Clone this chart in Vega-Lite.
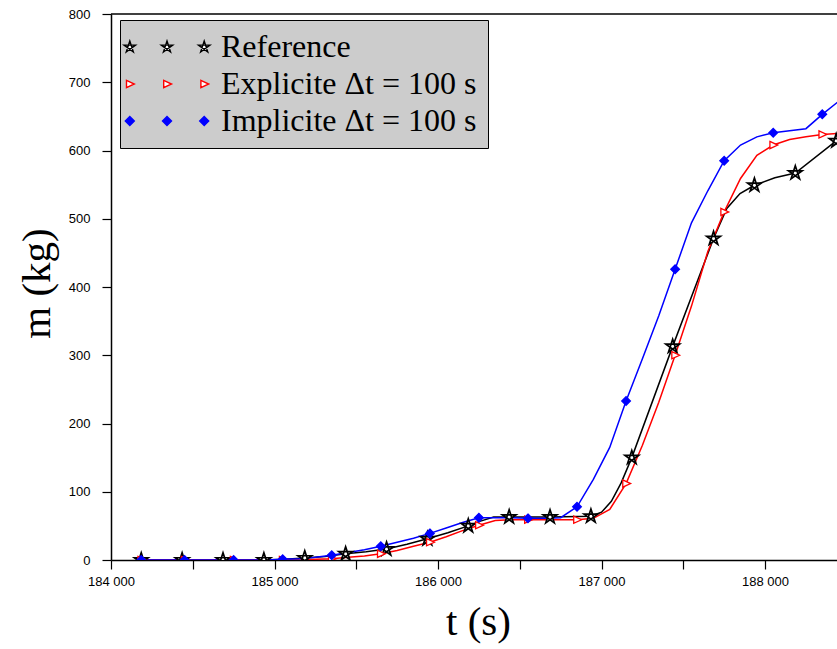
{
  "$schema": "https://vega.github.io/schema/vega-lite/v6.json",
  "width": 726,
  "height": 546,
  "autosize": "none",
  "padding": {"left": 111, "top": 14, "right": 0, "bottom": 89},
  "background": "white",
  "config": {"view": {"stroke": null}},
  "datasets": {
    "lines": [
      {"series": "Reference", "t": 184185, "m": 0},
      {"series": "Reference", "t": 184435, "m": 0},
      {"series": "Reference", "t": 184685, "m": 0},
      {"series": "Reference", "t": 184935, "m": 0},
      {"series": "Reference", "t": 185060, "m": 1},
      {"series": "Reference", "t": 185185, "m": 3},
      {"series": "Reference", "t": 185310, "m": 5},
      {"series": "Reference", "t": 185435, "m": 9},
      {"series": "Reference", "t": 185560, "m": 12},
      {"series": "Reference", "t": 185685, "m": 16},
      {"series": "Reference", "t": 185810, "m": 23},
      {"series": "Reference", "t": 185935, "m": 31},
      {"series": "Reference", "t": 186060, "m": 40},
      {"series": "Reference", "t": 186185, "m": 50},
      {"series": "Reference", "t": 186260, "m": 57},
      {"series": "Reference", "t": 186340, "m": 63},
      {"series": "Reference", "t": 186435, "m": 63},
      {"series": "Reference", "t": 186685, "m": 63},
      {"series": "Reference", "t": 186935, "m": 64},
      {"series": "Reference", "t": 187000, "m": 70},
      {"series": "Reference", "t": 187060, "m": 86},
      {"series": "Reference", "t": 187120, "m": 113},
      {"series": "Reference", "t": 187185, "m": 150},
      {"series": "Reference", "t": 187435, "m": 313},
      {"series": "Reference", "t": 187685, "m": 471},
      {"series": "Reference", "t": 187766, "m": 515},
      {"series": "Reference", "t": 187847, "m": 537},
      {"series": "Reference", "t": 187935, "m": 549},
      {"series": "Reference", "t": 188060, "m": 560},
      {"series": "Reference", "t": 188185, "m": 567},
      {"series": "Reference", "t": 188435, "m": 614},
      {"series": "Reference", "t": 188500, "m": 625},
      {"series": "Explicite Δt = 100 s", "t": 184185, "m": 0},
      {"series": "Explicite Δt = 100 s", "t": 184250, "m": 0},
      {"series": "Explicite Δt = 100 s", "t": 184350, "m": 0},
      {"series": "Explicite Δt = 100 s", "t": 184450, "m": 0},
      {"series": "Explicite Δt = 100 s", "t": 184550, "m": 0},
      {"series": "Explicite Δt = 100 s", "t": 184650, "m": 0},
      {"series": "Explicite Δt = 100 s", "t": 184750, "m": 0},
      {"series": "Explicite Δt = 100 s", "t": 184850, "m": 0},
      {"series": "Explicite Δt = 100 s", "t": 184950, "m": 0},
      {"series": "Explicite Δt = 100 s", "t": 185050, "m": 0},
      {"series": "Explicite Δt = 100 s", "t": 185150, "m": 0},
      {"series": "Explicite Δt = 100 s", "t": 185250, "m": 1},
      {"series": "Explicite Δt = 100 s", "t": 185350, "m": 2},
      {"series": "Explicite Δt = 100 s", "t": 185450, "m": 4},
      {"series": "Explicite Δt = 100 s", "t": 185550, "m": 6},
      {"series": "Explicite Δt = 100 s", "t": 185650, "m": 9},
      {"series": "Explicite Δt = 100 s", "t": 185750, "m": 14},
      {"series": "Explicite Δt = 100 s", "t": 185850, "m": 20},
      {"series": "Explicite Δt = 100 s", "t": 185950, "m": 26},
      {"series": "Explicite Δt = 100 s", "t": 186050, "m": 34},
      {"series": "Explicite Δt = 100 s", "t": 186150, "m": 43},
      {"series": "Explicite Δt = 100 s", "t": 186250, "m": 51},
      {"series": "Explicite Δt = 100 s", "t": 186350, "m": 58},
      {"series": "Explicite Δt = 100 s", "t": 186450, "m": 59},
      {"series": "Explicite Δt = 100 s", "t": 186550, "m": 59},
      {"series": "Explicite Δt = 100 s", "t": 186650, "m": 59},
      {"series": "Explicite Δt = 100 s", "t": 186750, "m": 59},
      {"series": "Explicite Δt = 100 s", "t": 186850, "m": 59},
      {"series": "Explicite Δt = 100 s", "t": 186950, "m": 61},
      {"series": "Explicite Δt = 100 s", "t": 187050, "m": 74},
      {"series": "Explicite Δt = 100 s", "t": 187150, "m": 112},
      {"series": "Explicite Δt = 100 s", "t": 187250, "m": 168},
      {"series": "Explicite Δt = 100 s", "t": 187350, "m": 231},
      {"series": "Explicite Δt = 100 s", "t": 187450, "m": 300},
      {"series": "Explicite Δt = 100 s", "t": 187550, "m": 372},
      {"series": "Explicite Δt = 100 s", "t": 187650, "m": 452},
      {"series": "Explicite Δt = 100 s", "t": 187750, "m": 510},
      {"series": "Explicite Δt = 100 s", "t": 187850, "m": 559},
      {"series": "Explicite Δt = 100 s", "t": 187950, "m": 593},
      {"series": "Explicite Δt = 100 s", "t": 188050, "m": 608},
      {"series": "Explicite Δt = 100 s", "t": 188150, "m": 616},
      {"series": "Explicite Δt = 100 s", "t": 188250, "m": 620},
      {"series": "Explicite Δt = 100 s", "t": 188350, "m": 623.5},
      {"series": "Explicite Δt = 100 s", "t": 188450, "m": 625},
      {"series": "Implicite Δt = 100 s", "t": 184185, "m": 0},
      {"series": "Implicite Δt = 100 s", "t": 184250, "m": 0},
      {"series": "Implicite Δt = 100 s", "t": 184350, "m": 0},
      {"series": "Implicite Δt = 100 s", "t": 184450, "m": 0},
      {"series": "Implicite Δt = 100 s", "t": 184550, "m": 0},
      {"series": "Implicite Δt = 100 s", "t": 184650, "m": 0},
      {"series": "Implicite Δt = 100 s", "t": 184750, "m": 0},
      {"series": "Implicite Δt = 100 s", "t": 184850, "m": 0},
      {"series": "Implicite Δt = 100 s", "t": 184950, "m": 0},
      {"series": "Implicite Δt = 100 s", "t": 185050, "m": 1},
      {"series": "Implicite Δt = 100 s", "t": 185150, "m": 2},
      {"series": "Implicite Δt = 100 s", "t": 185250, "m": 4},
      {"series": "Implicite Δt = 100 s", "t": 185350, "m": 7},
      {"series": "Implicite Δt = 100 s", "t": 185450, "m": 11},
      {"series": "Implicite Δt = 100 s", "t": 185550, "m": 15},
      {"series": "Implicite Δt = 100 s", "t": 185650, "m": 20},
      {"series": "Implicite Δt = 100 s", "t": 185750, "m": 26},
      {"series": "Implicite Δt = 100 s", "t": 185850, "m": 32},
      {"series": "Implicite Δt = 100 s", "t": 185950, "m": 39},
      {"series": "Implicite Δt = 100 s", "t": 186050, "m": 47},
      {"series": "Implicite Δt = 100 s", "t": 186150, "m": 55},
      {"series": "Implicite Δt = 100 s", "t": 186250, "m": 62},
      {"series": "Implicite Δt = 100 s", "t": 186350, "m": 62},
      {"series": "Implicite Δt = 100 s", "t": 186450, "m": 62},
      {"series": "Implicite Δt = 100 s", "t": 186550, "m": 61},
      {"series": "Implicite Δt = 100 s", "t": 186650, "m": 61},
      {"series": "Implicite Δt = 100 s", "t": 186750, "m": 62},
      {"series": "Implicite Δt = 100 s", "t": 186850, "m": 78},
      {"series": "Implicite Δt = 100 s", "t": 186950, "m": 118},
      {"series": "Implicite Δt = 100 s", "t": 187050, "m": 165},
      {"series": "Implicite Δt = 100 s", "t": 187150, "m": 233},
      {"series": "Implicite Δt = 100 s", "t": 187250, "m": 295},
      {"series": "Implicite Δt = 100 s", "t": 187350, "m": 358},
      {"series": "Implicite Δt = 100 s", "t": 187450, "m": 426},
      {"series": "Implicite Δt = 100 s", "t": 187550, "m": 494},
      {"series": "Implicite Δt = 100 s", "t": 187650, "m": 541},
      {"series": "Implicite Δt = 100 s", "t": 187750, "m": 585},
      {"series": "Implicite Δt = 100 s", "t": 187850, "m": 608},
      {"series": "Implicite Δt = 100 s", "t": 187950, "m": 620},
      {"series": "Implicite Δt = 100 s", "t": 188050, "m": 626},
      {"series": "Implicite Δt = 100 s", "t": 188150, "m": 629},
      {"series": "Implicite Δt = 100 s", "t": 188250, "m": 632},
      {"series": "Implicite Δt = 100 s", "t": 188350, "m": 653},
      {"series": "Implicite Δt = 100 s", "t": 188450, "m": 672}
    ],
    "markers": [
      {"series": "Reference", "t": 184185, "m": 0},
      {"series": "Reference", "t": 184435, "m": 0},
      {"series": "Reference", "t": 184685, "m": 0},
      {"series": "Reference", "t": 184935, "m": 0},
      {"series": "Reference", "t": 185185, "m": 3},
      {"series": "Reference", "t": 185435, "m": 9},
      {"series": "Reference", "t": 185685, "m": 16},
      {"series": "Reference", "t": 185935, "m": 31},
      {"series": "Reference", "t": 186185, "m": 50},
      {"series": "Reference", "t": 186435, "m": 63},
      {"series": "Reference", "t": 186685, "m": 63},
      {"series": "Reference", "t": 186935, "m": 64},
      {"series": "Reference", "t": 187185, "m": 150},
      {"series": "Reference", "t": 187435, "m": 313},
      {"series": "Reference", "t": 187685, "m": 471},
      {"series": "Reference", "t": 187935, "m": 549},
      {"series": "Reference", "t": 188185, "m": 567},
      {"series": "Reference", "t": 188435, "m": 614},
      {"series": "Explicite Δt = 100 s", "t": 184185, "m": 0},
      {"series": "Explicite Δt = 100 s", "t": 184450, "m": 0},
      {"series": "Explicite Δt = 100 s", "t": 184750, "m": 0},
      {"series": "Explicite Δt = 100 s", "t": 185050, "m": 0},
      {"series": "Explicite Δt = 100 s", "t": 185350, "m": 2},
      {"series": "Explicite Δt = 100 s", "t": 185650, "m": 9},
      {"series": "Explicite Δt = 100 s", "t": 185950, "m": 26},
      {"series": "Explicite Δt = 100 s", "t": 186250, "m": 51},
      {"series": "Explicite Δt = 100 s", "t": 186550, "m": 59},
      {"series": "Explicite Δt = 100 s", "t": 186850, "m": 59},
      {"series": "Explicite Δt = 100 s", "t": 187150, "m": 112},
      {"series": "Explicite Δt = 100 s", "t": 187450, "m": 300},
      {"series": "Explicite Δt = 100 s", "t": 187750, "m": 510},
      {"series": "Explicite Δt = 100 s", "t": 188050, "m": 608},
      {"series": "Explicite Δt = 100 s", "t": 188350, "m": 623.5},
      {"series": "Implicite Δt = 100 s", "t": 184185, "m": 0},
      {"series": "Implicite Δt = 100 s", "t": 184450, "m": 0},
      {"series": "Implicite Δt = 100 s", "t": 184750, "m": 0},
      {"series": "Implicite Δt = 100 s", "t": 185050, "m": 1},
      {"series": "Implicite Δt = 100 s", "t": 185350, "m": 7},
      {"series": "Implicite Δt = 100 s", "t": 185650, "m": 20},
      {"series": "Implicite Δt = 100 s", "t": 185950, "m": 39},
      {"series": "Implicite Δt = 100 s", "t": 186250, "m": 62},
      {"series": "Implicite Δt = 100 s", "t": 186550, "m": 61},
      {"series": "Implicite Δt = 100 s", "t": 186850, "m": 78},
      {"series": "Implicite Δt = 100 s", "t": 187150, "m": 233},
      {"series": "Implicite Δt = 100 s", "t": 187450, "m": 426},
      {"series": "Implicite Δt = 100 s", "t": 187750, "m": 585},
      {"series": "Implicite Δt = 100 s", "t": 188050, "m": 626},
      {"series": "Implicite Δt = 100 s", "t": 188350, "m": 653}
    ]
  },
  "layer": [
    {
      "data": {"values": [{}]},
      "mark": {"type": "rule", "color": "black", "strokeWidth": 1.5},
      "encoding": {"y": {"datum": 800, "type": "quantitative"}}
    },
    {
      "data": {"name": "lines"},
      "mark": {"type": "line", "strokeWidth": 1.5, "clip": true},
      "encoding": {
        "x": {
          "field": "t", "type": "quantitative",
          "scale": {"domain": [184000, 188440], "nice": false, "zero": false},
          "axis": {
            "title": "t (s)",
            "titleFont": "Liberation Serif", "titleFontSize": 41, "titleFontWeight": "normal", "titleColor": "black",
            "titleX": 367, "titleY": 62, "titleBaseline": "middle", "titleAlign": "center",
            "values": [184000, 184500, 185000, 185500, 186000, 186500, 187000, 187500, 188000],
            "labelExpr": "datum.value % 1000 === 0 ? replace(format(datum.value, ','), ',', ' ') : ''",
            "labelFont": "Liberation Sans", "labelFontSize": 13, "labelColor": "black",
            "labelPadding": 6, "labelFlush": false, "labelOverlap": false,
            "tickSize": 9, "tickColor": "black", "tickWidth": 1.2,
            "domainColor": "black", "domainWidth": 1.5, "grid": false,
            "encode": {"ticks": {"update": {"y2": {"condition": {"test": "datum.value % 1000 === 0", "value": 9}, "value": 5}}}}
          }
        },
        "y": {
          "field": "m", "type": "quantitative",
          "scale": {"domain": [0, 800], "nice": false},
          "axis": {
            "title": "m (kg)",
            "titleFont": "Liberation Serif", "titleFontSize": 41, "titleFontWeight": "normal", "titleColor": "black",
            "titleX": -74, "titleY": 269, "titleAngle": 270, "titleBaseline": "middle", "titleAlign": "center",
            "values": [0, 50, 100, 150, 200, 250, 300, 350, 400, 450, 500, 550, 600, 650, 700, 750, 800],
            "labelExpr": "datum.value % 100 === 0 ? datum.label : ''",
            "labelFont": "Liberation Sans", "labelFontSize": 13, "labelColor": "black",
            "labelPadding": 12, "labelOverlap": false,
            "tickSize": 9, "tickColor": "black", "tickWidth": 1.2,
            "domainColor": "black", "domainWidth": 1.5, "grid": false
          }
        },
        "stroke": {
          "field": "series", "type": "nominal",
          "scale": {"domain": ["Reference", "Explicite Δt = 100 s", "Implicite Δt = 100 s"], "range": ["black", "red", "blue"]}
        }
      }
    },
    {
      "data": {"name": "markers"},
      "transform": [{"filter": "datum.series === 'Reference'"}],
      "mark": {"type": "point", "filled": true, "size": 144, "strokeWidth": 1.7, "opacity": 1, "clip": true,
               "shape": "M0,-1.2L0.705,0.971L-1.141,-0.371L1.141,-0.371L-0.705,0.971Z", "fill": "white", "stroke": "black"},
      "encoding": {
        "x": {"field": "t", "type": "quantitative"},
        "y": {"field": "m", "type": "quantitative"}
      }
    },
    {
      "data": {"name": "markers"},
      "transform": [{"filter": "datum.series === 'Explicite Δt = 100 s'"}],
      "mark": {"type": "point", "filled": true, "size": 144, "strokeWidth": 1.3, "opacity": 1, "clip": true,
               "shape": "M-0.55,-0.6L0.75,0L-0.55,0.6Z", "fill": "white", "stroke": "red"},
      "encoding": {
        "x": {"field": "t", "type": "quantitative"},
        "y": {"field": "m", "type": "quantitative"}
      }
    },
    {
      "data": {"name": "markers"},
      "transform": [{"filter": "datum.series === 'Implicite Δt = 100 s'"}],
      "mark": {"type": "point", "filled": true, "size": 144, "strokeWidth": 1.3, "opacity": 1, "clip": true,
               "shape": "M0,-0.72L0.72,0L0,0.72L-0.72,0Z", "fill": "blue", "stroke": "blue"},
      "encoding": {
        "x": {"field": "t", "type": "quantitative"},
        "y": {"field": "m", "type": "quantitative"}
      }
    },
    {
      "data": {"name": "markers"},
      "transform": [{"filter": "datum.m < 0"}],
      "mark": {"type": "point", "filled": true, "size": 144, "strokeWidth": 1.3, "opacity": 1},
      "encoding": {
        "x": {"field": "t", "type": "quantitative"},
        "y": {"field": "m", "type": "quantitative"},
        "shape": {
          "field": "series", "type": "nominal",
          "scale": {
            "domain": ["Reference", "Explicite Δt = 100 s", "Implicite Δt = 100 s"],
            "range": [
              "M-6.2,-1L-5.612,0.809L-7.151,-0.309L-5.249,-0.309L-6.788,0.809ZM0,-1L0.588,0.809L-0.951,-0.309L0.951,-0.309L-0.588,0.809ZM6.2,-1L6.788,0.809L5.249,-0.309L7.151,-0.309L5.612,0.809Z",
              "M-6.75,-0.6L-5.45,0L-6.75,0.6ZM-0.55,-0.6L0.75,0L-0.55,0.6ZM5.65,-0.6L6.95,0L5.65,0.6Z",
              "M-6.2,-0.75L-5.45,0L-6.2,0.75L-6.95,0ZM0,-0.75L0.75,0L0,0.75L-0.75,0ZM6.2,-0.75L6.95,0L6.2,0.75L5.45,0Z"
            ]
          },
          "legend": {
            "title": null, "orient": "none", "legendX": 9, "legendY": 6,
            "fillColor": "#cccccc", "strokeColor": "black", "padding": 11, "cornerRadius": 0,
            "labelFont": "Liberation Serif", "labelFontSize": 32, "labelColor": "black", "labelLimit": 0,
            "labelOffset": 38, "symbolOffset": 20, "rowPadding": 5,
            "symbolSize": 144, "symbolStrokeWidth": 1.4, "symbolOpacity": 1,
            "encode": {"legend": {"update": {"strokeWidth": {"value": 1.5}}}}
          }
        },
        "fill": {
          "field": "series", "type": "nominal",
          "scale": {"domain": ["Reference", "Explicite Δt = 100 s", "Implicite Δt = 100 s"], "range": ["white", "white", "blue"]}
        },
        "stroke": {
          "field": "series", "type": "nominal"
        }
      }
    }
  ]
}
